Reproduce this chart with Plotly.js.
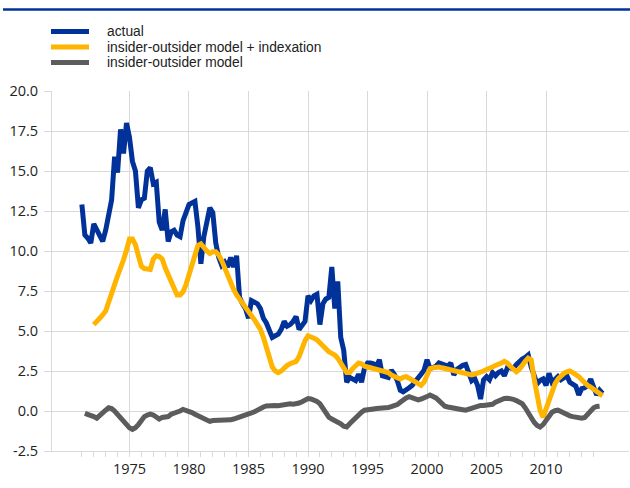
<!DOCTYPE html>
<html><head><meta charset="utf-8">
<script src="https://cdn.plot.ly/plotly-3.0.1.min.js"></script>
<style>html,body{margin:0;padding:0;background:#fff}#chart{width:630px;height:488px}</style>
</head><body><div id="chart"></div>
<script>
// ---- data (quarterly) ----
const seriesNames = ["actual", "insider-outsider model + indexation", "insider-outsider model"];
const actualStart = 1971.0;      // first quarter of "actual"
const indexationStart = 1972.0;  // first quarter of "model + indexation"
const modelStart = 1971.25;      // first quarter of "model"

const actual = [12.9, 11.0, 10.8, 10.5, 11.7, 11.3, 11.0, 10.6, 11.3, 12.2,
 13.2, 15.9, 14.9, 17.6, 16.1, 18.0, 17.1, 15.6, 15.0, 12.7,
 13.2, 13.3, 15.0, 15.2, 14.2, 14.3, 11.8, 11.3, 12.6, 10.6,
 11.2, 11.3, 11.0, 10.9, 11.9, 12.4, 12.9, 13.0, 13.1, 11.5,
 9.2, 10.9, 12.0, 12.7, 12.4, 10.5, 9.6, 9.1, 9.3, 9.0,
 9.6, 9.0, 9.7, 7.1, 6.7, 6.4, 5.8, 6.9, 6.8, 6.7,
 6.4, 5.8, 5.5, 5.0, 4.6, 4.7, 4.8, 5.1, 5.6, 5.3,
 5.4, 5.6, 5.9, 5.1, 5.3, 5.6, 7.2, 6.9, 7.2, 7.3,
 5.4, 6.7, 7.0, 7.1, 9.0, 6.4, 8.1, 4.6, 3.8, 1.8,
 2.1, 2.0, 1.9, 2.3, 1.8, 2.7, 3.0, 3.0, 2.95, 2.8,
 3.2, 2.2, 2.15, 2.1, 2.55, 2.3, 1.9, 1.3, 1.2, 1.3,
 1.45, 1.6, 1.8, 2.05, 2.3, 2.55, 3.2, 2.65, 2.7, 2.8,
 3.0, 2.95, 2.9, 2.8, 3.0, 2.25, 2.6, 2.75, 2.85, 2.9,
 2.35, 1.9, 2.05, 1.6, 0.75, 1.95, 2.15, 1.95, 2.4, 2.2,
 2.4, 2.5, 2.2, 2.7, 2.7, 2.65, 2.9, 3.1, 3.25, 3.35,
 3.5, 2.75, 2.1, 1.7, 1.9, 2.0, 1.6, 2.35, 1.8, 2.0,
 2.15, 1.95, 2.1, 2.2, 1.8, 1.7, 1.55, 1.0, 1.4, 1.45,
 1.6, 2.0, 1.4, 1.0, 1.3, 1.1];

const indexation = [5.4, 5.55, 5.8, 6.0, 6.25, 6.8, 7.45, 7.9, 8.45, 8.9,
 9.45, 10.05, 10.75, 10.75, 10.4, 9.7, 9.05, 8.9, 8.85, 8.85,
 9.5, 9.7, 9.65, 9.5, 8.95, 8.5, 7.95, 7.55, 7.25, 7.25,
 7.45, 7.9, 8.5, 9.3, 9.9, 10.35, 10.45, 10.2, 10.0, 9.85,
 9.95, 9.95, 9.75, 9.4, 8.9, 8.45, 8.0, 7.6, 7.25, 7.0,
 6.75, 6.55, 6.3, 6.0, 5.7, 5.4, 5.1, 4.6, 3.9, 3.2,
 2.75, 2.5, 2.4, 2.5, 2.7, 2.85, 2.95, 3.0, 3.1, 3.4,
 3.95, 4.4, 4.7, 4.65, 4.55, 4.45, 4.25, 4.1, 3.95, 3.7,
 3.6, 3.5, 3.3, 3.05, 2.7, 2.4, 2.4, 2.65, 2.85, 3.0,
 2.95, 2.8, 2.75, 2.7, 2.65, 2.6, 2.55, 2.5, 2.45, 2.4,
 2.25, 2.15, 2.05, 2.0, 2.1, 2.15, 2.05, 1.95, 1.85, 1.7,
 1.6, 1.8, 2.3, 2.65, 2.7, 2.75, 2.75, 2.7, 2.65, 2.65,
 2.6, 2.5, 2.45, 2.4, 2.35, 2.35, 2.3, 2.25, 2.3, 2.35,
 2.45, 2.5, 2.6, 2.65, 2.75, 2.85, 2.9, 3.0, 3.1, 3.0,
 2.8, 2.65, 2.45, 2.6, 2.9, 3.1, 3.3, 3.2, 2.0, 1.0,
 0.05, -0.4, 0.15, 0.7, 1.25, 1.7, 2.0, 2.2, 2.35, 2.45,
 2.5, 2.4, 2.3, 2.15, 1.95, 1.75, 1.6, 1.5, 1.35, 1.2,
 1.05, 0.95];

const model = [-0.15, -0.2, -0.3, -0.35, -0.45, -0.25, -0.1, 0.05, 0.2, 0.15,
 0.0, -0.2, -0.4, -0.65, -0.9, -1.05, -1.15, -1.05, -0.85, -0.55,
 -0.35, -0.25, -0.2, -0.25, -0.4, -0.5, -0.4, -0.4, -0.35, -0.2,
 -0.15, -0.05, 0.0, 0.1, 0.05, 0.0, -0.1, -0.2, -0.3, -0.4,
 -0.5, -0.62, -0.65, -0.6, -0.6, -0.6, -0.58, -0.6, -0.6, -0.55,
 -0.5, -0.45, -0.38, -0.32, -0.25, -0.2, -0.12, -0.05, 0.08, 0.18,
 0.25, 0.32, 0.35, 0.35, 0.35, 0.33, 0.38, 0.4, 0.42, 0.45,
 0.43, 0.45, 0.5, 0.58, 0.7, 0.78, 0.75, 0.68, 0.6, 0.45,
 0.2, -0.15, -0.38, -0.5, -0.58, -0.68, -0.8, -0.95, -1.0, -0.8,
 -0.6, -0.4, -0.22, -0.08, 0.05, 0.1, 0.12, 0.13, 0.15, 0.15,
 0.18, 0.2, 0.22, 0.27, 0.3, 0.4, 0.55, 0.7, 0.82, 0.9,
 0.85, 0.72, 0.7, 0.75, 0.8, 0.9, 1.0, 0.95, 0.82, 0.65,
 0.45, 0.3, 0.25, 0.2, 0.18, 0.15, 0.12, 0.08, 0.05, 0.12,
 0.2, 0.27, 0.32, 0.35, 0.35, 0.35, 0.35, 0.42, 0.55, 0.65,
 0.72, 0.78, 0.8, 0.78, 0.73, 0.65, 0.55, 0.45, 0.2, -0.15,
 -0.45, -0.7, -0.9, -1.0, -0.85, -0.6, -0.25, -0.08, 0.02, 0.05,
 -0.03, -0.15, -0.25, -0.3, -0.35, -0.38, -0.45, -0.45, -0.4, -0.2,
 0.0, 0.2, 0.28, 0.3];

const xTickVals = [1975, 1980, 1985, 1990, 1995, 2000, 2005, 2010];
const xTickText = ["1975", "1980", "1985", "1990", "1995", "2000", "2005", "2010"];
const yTickVals = [-2.5, 0, 2.5, 5, 7.5, 10, 12.5, 15, 17.5, 20];
const yTickText = ["-2.5", "0.0", "2.5", "5.0", "7.5", "10.0", "12.5", "15.0", "17.5", "20.0"];
const firstYearTick = 1971, lastYearTick = 2014;

// ---- helpers ----
function quarters(start, n) { const a = []; for (let i = 0; i < n; i++) a.push(start + i / 4); return a; }
const minorTicks = []; for (let y = firstYearTick; y <= lastYearTick; y++) minorTicks.push(y);

const colors = ["#003299", "#FFB400", "#5C5C5C"];
const grid = "#d9d9d9";
const W = 630, H = 488, M = {l: 52, r: 1, t: 91, b: 37};
const pw = W - M.l - M.r, ph = H - M.t - M.b;
const px = x => (x - M.l) / pw;
const py = y => (H - M.b - y) / ph;

const traces = [
  {x: quarters(actualStart, actual.length), y: actual, name: seriesNames[0]},
  {x: quarters(indexationStart, indexation.length), y: indexation, name: seriesNames[1]},
  {x: quarters(modelStart, model.length), y: model, name: seriesNames[2]}
].map((t, i) => Object.assign(t, {type: "scatter", mode: "lines", line: {color: colors[i], width: 5}, hoverinfo: "skip"}));

const legendRows = [31.6, 47.1, 62.6];
const shapes = [{type: "line", xref: "paper", yref: "paper", x0: px(3), x1: px(630), y0: py(9.5), y1: py(9.5), line: {color: "#003299", width: 2.5}}];
const annotations = [];
seriesNames.forEach((n, i) => {
  shapes.push({type: "line", xref: "paper", yref: "paper", x0: px(51), x1: px(89), y0: py(legendRows[i]), y1: py(legendRows[i]), line: {color: colors[i], width: 5}});
  annotations.push({xref: "paper", yref: "paper", x: px(106), y: py(legendRows[i]), xanchor: "left", yanchor: "middle",
    height: 13, valign: "middle", borderpad: 0, text: n, showarrow: false,
    font: {family: "Liberation Sans, Arial, sans-serif", size: 13.8, color: "#222"}});
});

const layout = {
  width: W, height: H, margin: M, showlegend: false,
  paper_bgcolor: "#fff", plot_bgcolor: "#fff",
  font: {family: "Open Sans", size: 14.5, color: "#222"},
  xaxis: {range: [1968.49, 2016.97], tickmode: "array", tickvals: xTickVals, ticktext: xTickText,
    showgrid: true, gridcolor: grid, gridwidth: 1, zeroline: false, showline: true, linecolor: grid, linewidth: 1,
    ticks: "outside", ticklen: 5, tickcolor: grid, tickwidth: 1,
    minor: {tickmode: "array", tickvals: minorTicks, ticks: "outside", ticklen: 5, tickcolor: grid, tickwidth: 1, showgrid: false},
    fixedrange: true},
  yaxis: {range: [-2.5, 20], tickmode: "array", tickvals: yTickVals, ticktext: yTickText,
    showgrid: true, gridcolor: grid, gridwidth: 1, zeroline: false, showline: true, linecolor: grid, linewidth: 1,
    ticks: "outside", ticklen: 7, tickcolor: grid, tickwidth: 1, ticklabelstandoff: 3, fixedrange: true},
  shapes: shapes, annotations: annotations
};

Plotly.newPlot("chart", traces, layout, {displayModeBar: false, staticPlot: true});
</script></body></html>
